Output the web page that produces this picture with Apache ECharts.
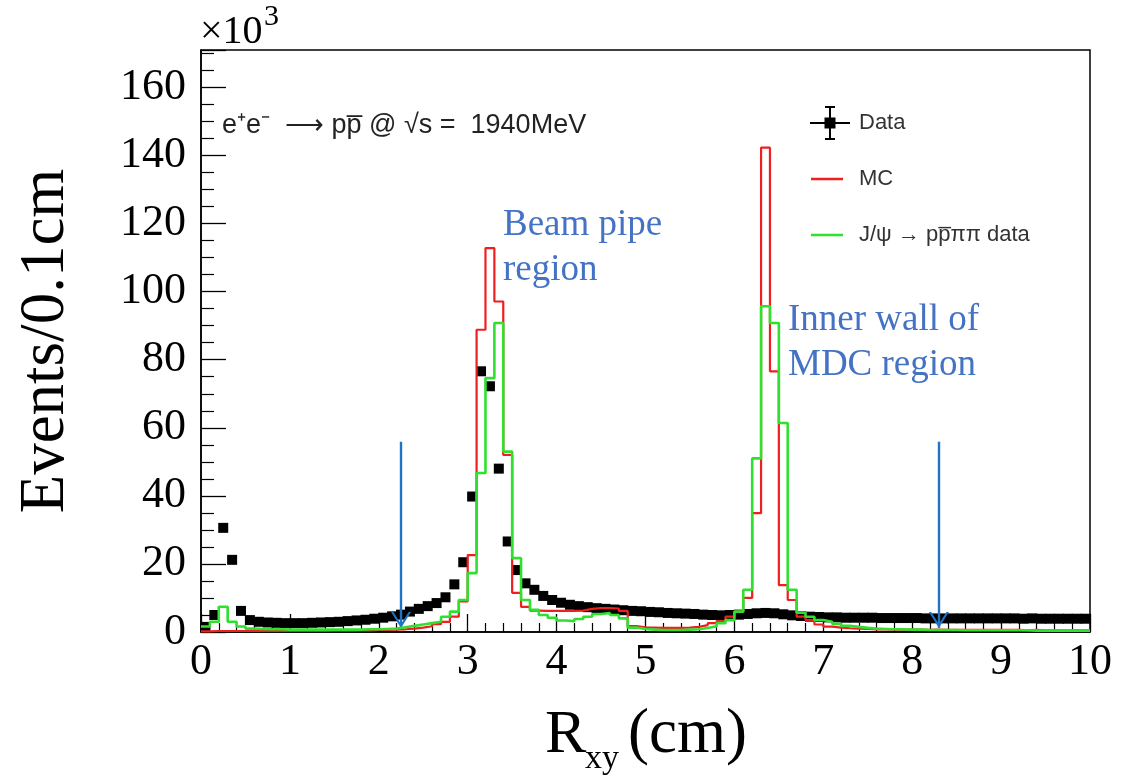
<!DOCTYPE html>
<html><head><meta charset="utf-8">
<script src="https://cdn.jsdelivr.net/npm/echarts@6/dist/echarts.min.js"></script>
<style>html,body{margin:0;padding:0;background:#fff}#c{width:1136px;height:781px}</style>
</head><body><div id="c"></div>
<script>
// ---- data (units: 10^3 events per 0.1 cm) ----
const binWidth = 0.1;            // cm
const xRange = [0, 10];
const yRange = [0, 171];
const yTickValues = [0, 20, 40, 60, 80, 100, 120, 140, 160];

// Data points (bin centres 0.05 ... 9.95)
const dataVals = [
  1.5, 5.0, 30.6, 21.2, 6.2, 3.5, 3.0, 2.8, 2.7, 2.6,
  2.6, 2.6, 2.7, 2.8, 2.9, 3.0, 3.2, 3.4, 3.6, 3.9,
  4.2, 4.6, 5.1, 6.0, 6.8, 7.6, 8.5, 10.2, 14.0, 20.5,
  39.8, 76.6, 72.2, 48.0, 26.6, 18.2, 14.3, 12.4, 10.6, 9.4,
  8.6, 8.0, 7.6, 7.3, 7.0, 6.8, 6.6, 6.4, 6.2, 6.1,
  5.9, 5.8, 5.6, 5.5, 5.4, 5.3, 5.1, 5.0, 4.9, 5.0,
  5.1, 5.3, 5.5, 5.6, 5.5, 5.2, 4.9, 4.7, 4.5, 4.4,
  4.3, 4.3, 4.2, 4.2, 4.2, 4.2, 4.1, 4.1, 4.1, 4.1,
  4.1, 4.0, 4.0, 4.0, 4.0, 4.0, 4.0, 4.0, 4.0, 4.0,
  4.0, 4.0, 3.9, 4.0, 3.9, 3.9, 3.9, 3.9, 3.9, 3.9
];
// MC histogram (bins starting at 0.0 ... 9.9)
const mcVals = [
  0.2, 0.3, 0.3, 0.3, 0.3, 0.3, 0.3, 0.3, 0.3, 0.3,
  0.3, 0.3, 0.3, 0.3, 0.4, 0.4, 0.4, 0.5, 0.5, 0.6,
  0.6, 0.7, 0.8, 1.0, 1.3, 1.7, 2.3, 3.0, 4.5, 9.0,
  22.6, 88.8, 112.8, 97.1, 52.0, 11.5, 7.4, 6.3, 6.2, 6.2,
  6.2, 6.2, 6.3, 6.8, 7.0, 7.0, 6.9, 6.2, 1.7, 1.4,
  1.3, 1.2, 1.2, 1.2, 1.3, 1.5, 2.0, 2.6, 3.2, 4.5,
  6.0, 10.0, 34.9, 142.3, 76.6, 13.8, 9.4, 4.5, 3.5, 2.2,
  1.6, 1.3, 1.1, 1.0, 0.9, 0.8, 0.8, 0.7, 0.7, 0.7,
  0.7, 0.6, 0.7, 0.6, 0.6, 0.6, 0.6, 0.6, 0.6, 0.6,
  0.6, 0.6, 0.5, 0.6, 0.5, 0.5, 0.5, 0.5, 0.5, 0.5
];
// J/psi -> p pbar pi pi data histogram (bins starting at 0.0 ... 9.9)
const jpsiVals = [
  1.6, 3.0, 7.4, 3.0, 1.6, 1.0, 0.9, 0.8, 0.8, 0.7,
  0.7, 0.7, 0.7, 0.7, 0.7, 0.7, 0.7, 0.7, 0.8, 0.8,
  0.9, 1.0, 1.4, 1.8, 2.2, 2.6, 3.0, 4.5, 6.0, 9.4,
  17.3, 46.7, 74.6, 90.8, 53.0, 21.7, 9.4, 6.5, 5.0, 4.2,
  3.4, 3.2, 3.8, 4.5, 5.3, 5.6, 5.0, 4.0, 1.3, 0.9,
  0.7, 0.6, 0.6, 0.6, 0.7, 0.8, 1.2, 1.7, 2.6, 3.5,
  6.0, 12.4, 51.0, 95.7, 90.8, 61.4, 12.4, 5.7, 4.5, 3.5,
  3.0, 2.4, 1.8, 1.5, 1.2, 1.0, 0.9, 0.8, 0.8, 0.7,
  0.7, 0.6, 0.6, 0.6, 0.6, 0.5, 0.5, 0.5, 0.5, 0.5,
  0.5, 0.5, 0.5, 0.4, 0.4, 0.4, 0.4, 0.4, 0.4, 0.4
];
// cut arrows: x position, from / to (y values)
const cutX = [2.25, 8.3];
const cutYTop = 55.9;
const cutYBottom = 1.2;

const seriesNames = ['Data', 'MC', 'J/\u03c8 \u2192 pp\u0305\u03c0\u03c0 data'];

// ---- build ----
function histPoints(vals) {
  const pts = vals.map((v, i) => [+(i * binWidth).toFixed(2), v]);
  pts.push([+(vals.length * binWidth).toFixed(2), vals[vals.length - 1]]);
  return pts;
}
const dataPoints = dataVals.map((v, i) => [+((i + 0.5) * binWidth).toFixed(2), v]);

const serif = "'Liberation Serif','Times New Roman',serif";
const sans = "'Liberation Sans',Arial,sans-serif";
const arrowBlue = '#1f74c4';
const noteBlue = '#4472c4';
const chevron = 'path://M10,0 L20,16 L17.6,16 L10,3.8 L2.4,16 L0,16 Z M10,-16 L10.02,-16 L10,-15.98 Z';
const dataIcon = 'path://M0,16 H40 V18 H0 Z M19,0 H21 V34 H19 Z M15,0 H25 V2 H15 Z M15,32 H25 V34 H15 Z M14.5,11.5 H25.5 V22.5 H14.5 Z';
const lineIcon = 'path://M1,15.8 H33 V18.2 H1 Z M0,0 L0.01,0 L0,0.01 Z M40,34 L39.99,34 L40,33.99 Z';

const chart = echarts.init(document.getElementById('c'), null, {renderer: 'canvas'});
chart.setOption({
  animation: false,
  backgroundColor: '#fff',
  grid: {left: 201, right: 46, top: 50, bottom: 149, show: true, borderColor: '#000', borderWidth: 1.5, backgroundColor: 'transparent'},
  legend: {
    orient: 'vertical', left: 810, top: 106, padding: 0, itemWidth: 40, itemHeight: 34, itemGap: 22,
    selectedMode: false,
    textStyle: {fontFamily: sans, fontSize: 22, color: '#333', padding: [0, 0, 0, 4]},
    itemStyle: {borderWidth: 0},
    data: [
      {name: seriesNames[0], icon: dataIcon},
      {name: seriesNames[1], icon: lineIcon},
      {name: seriesNames[2], icon: lineIcon}
    ]
  },
  xAxis: {
    type: 'value', min: xRange[0], max: xRange[1], interval: 1,
    axisLine: {show: true, lineStyle: {color: '#000', width: 1.5}},
    axisTick: {show: true, inside: true, length: 18, lineStyle: {color: '#000', width: 1.3}},
    minorTick: {show: true, splitNumber: 5, length: 9, lineStyle: {color: '#000', width: 1.2}},
    axisLabel: {fontFamily: serif, fontSize: 44, color: '#000', margin: 8},
    splitLine: {show: false}
  },
  yAxis: {
    type: 'value', min: yRange[0], max: yRange[1], interval: 20,
    name: 'Events/0.1cm', nameLocation: 'middle', nameGap: 123, nameRotate: 90,
    nameTextStyle: {fontFamily: serif, fontSize: 63, color: '#000'},
    axisLine: {show: true, lineStyle: {color: '#000', width: 1.5}},
    axisTick: {show: true, inside: true, length: 25, lineStyle: {color: '#000', width: 1.3}},
    minorTick: {show: true, splitNumber: 4, length: 13, lineStyle: {color: '#000', width: 1.2}},
    axisLabel: {fontFamily: serif, fontSize: 44, color: '#000', margin: 15,
      formatter: v => yTickValues.indexOf(v) >= 0 ? String(v) : ''},
    splitLine: {show: false}
  },
  series: [
    {
      name: seriesNames[0], type: 'scatter', data: dataPoints,
      symbol: 'rect', symbolSize: 10, itemStyle: {color: '#000', opacity: 1}, z: 3,
      markLine: {
        silent: true, symbol: ['none', chevron], symbolSize: [20, 32],
        label: {show: false},
        lineStyle: {color: arrowBlue, width: 2.4, type: 'solid'},
        data: cutX.map(x => [{coord: [x, cutYTop]}, {coord: [x, cutYBottom]}])
      }
    },
    {
      name: seriesNames[1], type: 'line', step: 'end', data: histPoints(mcVals),
      symbol: 'none', lineStyle: {color: '#f01f1f', width: 2.2}, itemStyle: {color: '#f01f1f'}, z: 4
    },
    {
      name: seriesNames[2], type: 'line', step: 'end', data: histPoints(jpsiVals),
      symbol: 'none', lineStyle: {color: '#2fe02f', width: 2.6}, itemStyle: {color: '#2fe02f'}, z: 5
    }
  ],
  graphic: [
    {type: 'text', left: 200, top: 12, style: {text: '\u00d710', font: '40px ' + serif, fill: '#000'}},
    {type: 'text', left: 264, top: 2, style: {text: '3', font: '30px ' + serif, fill: '#000'}},
    {type: 'text', left: 222, top: 112, style: {text: 'e\u207ae\u207b  \u27f6 pp\u0305 @ \u221as =  1940MeV', font: '27px ' + sans, fill: '#222'}},
    {type: 'text', left: 503, top: 203, style: {text: 'Beam pipe\nregion', font: '37px ' + serif, lineHeight: 45, fill: noteBlue}},
    {type: 'text', left: 788, top: 298, style: {text: 'Inner wall of\nMDC region', font: '37px ' + serif, lineHeight: 45, fill: noteBlue}},
    {type: 'text', left: 545, top: 705, style: {text: 'R', font: '62px ' + serif, fill: '#000'}},
    {type: 'text', left: 585, top: 742, style: {text: 'xy', font: '34px ' + serif, fill: '#000'}},
    {type: 'text', left: 628, top: 704, style: {text: '(cm)', font: '63px ' + serif, fill: '#000'}}
  ]
});
</script>
</body></html>
